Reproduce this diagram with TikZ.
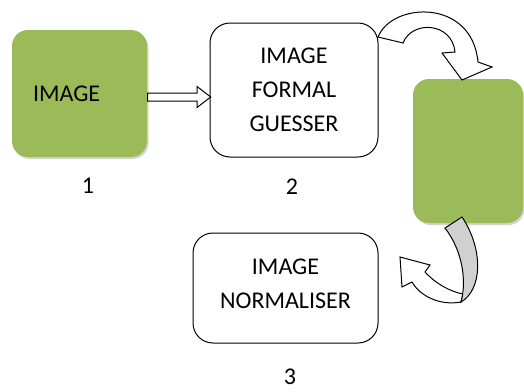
\documentclass[tikz,border=0pt]{standalone}
\usepackage{fontspec}
\setmainfont{Carlito}
\usetikzlibrary{shadows,shapes.arrows}
\definecolor{ogreen}{HTML}{9BBB59}
\definecolor{ogray}{HTML}{D0D0D0}
\begin{document}
\begin{tikzpicture}[x=1pt,y=-1pt,
  font=\fontsize{24}{34}\selectfont,
  greenbox/.style={fill=ogreen, rounded corners=16pt, inner sep=0pt,
    drop shadow={shadow xshift=1.5pt, shadow yshift=-2pt, opacity=0.35, fill=gray}},
  whitebox/.style={draw=black, line width=1pt, fill=white, rounded corners=20pt,
    align=center, inner sep=0pt},
  blockline/.style={draw=black, line width=1pt, fill=white, line join=miter},
  numlabel/.style={inner sep=0pt}]
\useasboundingbox (0,0) rectangle (524,391);

% boxes
\node[greenbox, minimum width=135pt, minimum height=127pt, text width=93pt,
      align=left, inner xsep=21pt] (b1) at (79.5,93.5) {IMAGE};
\node[whitebox, minimum width=168pt, minimum height=134pt] (b2) at (294,90)
  {IMAGE\\FORMAL\\GUESSER};
\node[greenbox, minimum width=110pt, minimum height=144pt] (g2) at (468,151) {};
\node[whitebox, minimum width=185pt, minimum height=110pt, text depth=9pt] (b3) at (285.5,288)
  {IMAGE\\NORMALISER};

% labels
\node[numlabel] (n1) at (88,186) {1};
\node[numlabel] (n2) at (292,187) {2};
\node[numlabel] (n3) at (290,377) {3};

% straight hollow arrow from b1 to b2
\node[single arrow, draw=black, line width=1pt, fill=white, inner sep=3.5pt,
      minimum height=63pt, minimum width=20pt, single arrow tip angle=75,
      single arrow head extend=6.5pt, anchor=tail] (a1) at (b1.east |- 0,97) {};

% curved arrow from b2 to g2
\path[blockline]
  (378,37) .. controls (392,2) and (472,-2) .. (478,62)
  -- (492,67) -- (462,80) -- (442,53) -- (455,52)
  .. controls (452,22) and (412,20) .. (403,43) -- cycle;

% curved arrow from g2 to b3
\path[blockline]
  (461,302) .. controls (440,306) and (420,296) .. (412,282)
  -- (402,287) -- (400,257) -- (430,265) -- (425,272)
  .. controls (437,285) and (452,292) .. (463,294) -- cycle;
\path[blockline, fill=ogray]
  (445,228) -- (462,217) .. controls (484,250) and (482,290) .. (461,302)
  .. controls (467,280) and (462,250) .. (445,228) -- cycle;
\end{tikzpicture}
\end{document}
